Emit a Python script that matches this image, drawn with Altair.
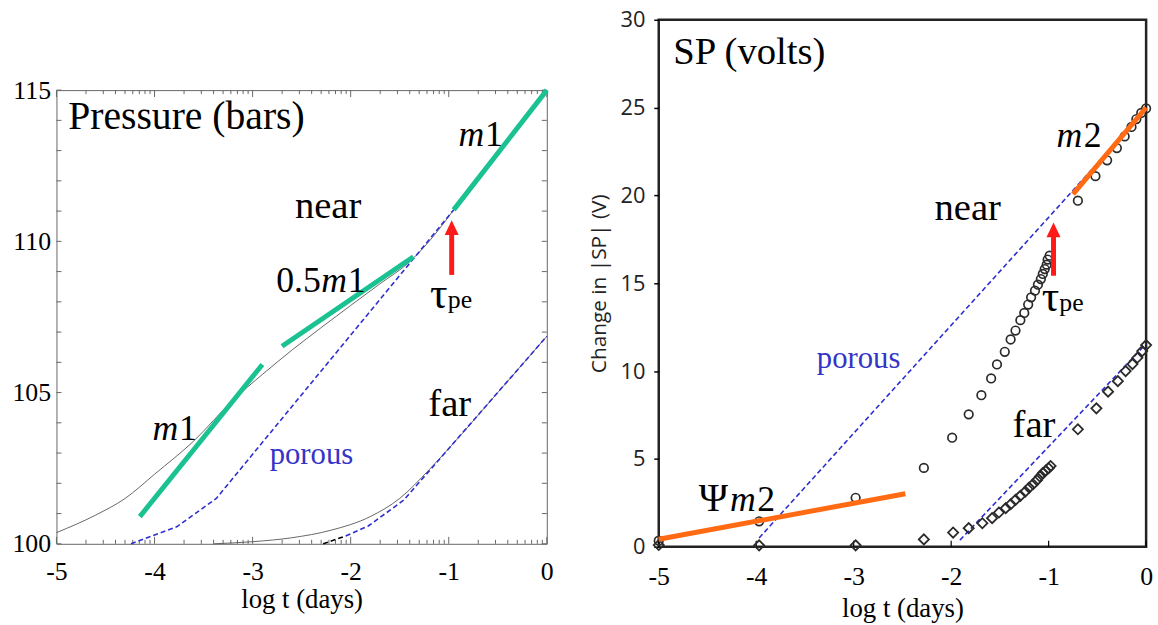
import altair as alt
import numpy as np
import pandas as pd

SERIF = "Liberation Serif"
SANS = "Open Sans"
GREEN = "#1bc291"
ORANGE = "#ff6a13"
BLUE = "#2d2dd2"
RED = "#ff1a1a"
THIN = "#555555"

LW, LH = 495, 458   # pressure panel plot area
RW, RH = 492, 532   # SP panel plot area

# ---------------- Pressure panel data ----------------
near_x = [-5.0, -4.6, -4.3, -4.0, -3.6, -3.2, -2.9, -2.6, -2.3, -2.0, -1.7, -1.4, -1.2, -1.0, -0.95, -0.5, 0.0]
near_y = [100.37, 100.95, 101.5, 102.3, 103.4, 104.75, 105.6, 106.4, 107.15, 107.88, 108.6, 109.32,
          110.0, 110.82, 111.04, 112.92, 115.0]

far_x = [-3.4, -3.0, -2.6, -2.2, -1.8, -1.5, -1.2, -1.0, -0.5, 0.0]
far_y = [100.0, 100.07, 100.2, 100.45, 100.9, 101.5, 102.45, 103.15, 105.0, 106.86]

porous_near_x = [-4.24, -3.77, -3.37, -0.95]
porous_near_y = [100.0, 100.57, 101.5, 111.04]
porous_far_x = [-2.05, -1.82, -1.46, 0.0]
porous_far_y = [100.26, 100.59, 101.44, 106.86]
porous_far_start_x = [-2.28, -2.05]
porous_far_start_y = [100.0, 100.26]

# straight-line slopes (m1, 0.5 m1, m1)
slope_seg = ["m1_early", "m1_early", "half", "half", "m1_late", "m1_late"]
slope_x = [-4.15, -2.90, -2.70, -1.36, -0.95, 0.0]
slope_y = [100.9, 105.93, 106.53, 109.49, 111.04, 115.0]

p_arrow_x = [-0.97]
p_arrow_tail = [108.89]
p_arrow_neck = [110.22]
p_arrow_tip = [110.70]

p_x_major = [-5, -4, -3, -2, -1, 0]
p_y_labels = [100, 105, 110, 115]
p_y_ticks = list(range(100, 116))

# ---------------- SP panel data ----------------
circle_x = [-5.0, -3.97, -2.98, -2.28,
            -1.99, -1.82, -1.69, -1.59, -1.53, -1.45, -1.39, -1.34, -1.29, -1.25,
            -1.21, -1.18, -1.14, -1.11, -1.08, -1.06, -1.04, -1.02, -1.01, -0.99,
            -0.70, -0.52, -0.40, -0.30, -0.22, -0.15, -0.10, -0.05, 0.0]
circle_y = [0.35, 1.45, 2.79, 4.49,
            6.21, 7.54, 8.63, 9.58, 10.38, 11.1, 11.8, 12.31, 12.9, 13.31,
            13.79, 14.2, 14.58, 14.92, 15.24, 15.53, 15.81, 16.06, 16.35, 16.57,
            19.7, 21.1, 22.0, 22.7, 23.36, 23.9, 24.35, 24.7, 24.95]

diamond_x = [-5.0, -3.97, -2.98, -2.28,
             -1.98, -1.82, -1.68, -1.58, -1.51, -1.44, -1.39, -1.34, -1.29, -1.24,
             -1.20, -1.16, -1.12, -1.09, -1.06, -1.03, -1.0, -0.98,
             -0.70, -0.51, -0.39, -0.29, -0.21, -0.14, -0.09, -0.04, 0.0]
diamond_y = [0.1, 0.08, 0.08, 0.42,
             0.81, 1.06, 1.34, 1.63, 1.95, 2.2, 2.42, 2.67, 2.9, 3.14,
             3.37, 3.56, 3.79, 4.0, 4.19, 4.34, 4.47, 4.6,
             6.69, 7.88, 8.83, 9.43, 10.0, 10.4, 10.76, 11.14, 11.48]

sp_porous_seg = ["near", "near", "far", "far"]
sp_porous_x = [-3.97, 0.0, -1.91, 0.0]
sp_porous_y = [0.5, 24.9, 0.38, 11.55]

sp_slope_seg = ["psi", "psi", "m2", "m2"]
sp_slope_x = [-5.0, -2.47, -0.75, 0.0]
sp_slope_y = [0.43, 3.02, 20.07, 25.0]

s_arrow_x = [-0.95]
s_arrow_tail = [15.43]
s_arrow_neck = [17.7]
s_arrow_tip = [18.46]

s_x_major = [-5, -4, -3, -2, -1, 0]
s_y_major = [0, 5, 10, 15, 20, 25, 30]

# ---------------- scales / axes ----------------
L_XS = alt.Scale(domain=[-5, 0], nice=False, zero=False)
L_YS = alt.Scale(domain=[100, 115], nice=False, zero=False)
R_XS = alt.Scale(domain=[-5, 0], nice=False, zero=False)
R_YS = alt.Scale(domain=[0, 30], nice=False, zero=False)

L_XA = alt.Axis(values=p_x_major, labelExpr="'' + datum.value", domain=False, ticks=False,
                grid=False, labelFont=SERIF, labelFontSize=26, labelColor="black",
                labelPadding=15, labelFlush=False, title="log t (days)", titleFont=SERIF,
                titleFontSize=27, titleFontWeight="normal", titleColor="black", titlePadding=2)
L_YA = alt.Axis(values=p_y_labels, domain=False, ticks=False, grid=False, labelFont=SERIF,
                labelFontSize=26, labelColor="black", labelPadding=6, title=None)
R_XA = alt.Axis(values=s_x_major, labelExpr="'' + datum.value", domain=False, ticks=False,
                grid=False, labelFont=SERIF, labelFontSize=26, labelColor="black",
                labelPadding=17, labelFlush=False, title="log t (days)", titleFont=SERIF,
                titleFontSize=27, titleFontWeight="normal", titleColor="black", titlePadding=6)
R_YA = alt.Axis(values=s_y_major, domain=False, ticks=True, tickSize=5, tickColor="black",
                tickWidth=1.5, grid=False, labelFont=SANS, labelFontSize=22, labelColor="#222",
                labelPadding=9, title="Change in |SP| (V)", titleFont=SANS, titleFontSize=21,
                titleFontWeight="normal", titleColor="#222", titlePadding=11)


def LX(f="x"):
    return alt.X(f"{f}:Q", scale=L_XS, axis=L_XA)


def LY(f="y"):
    return alt.Y(f"{f}:Q", scale=L_YS, axis=L_YA)


def RX(f="x"):
    return alt.X(f"{f}:Q", scale=R_XS, axis=R_XA)


def RY(f="y"):
    return alt.Y(f"{f}:Q", scale=R_YS, axis=R_YA)


def line(xs, ys, X, Y, **kw):
    df = pd.DataFrame({"x": xs, "y": ys, "i": range(len(xs))})
    return alt.Chart(df).mark_line(**kw).encode(x=X(), y=Y(), order="i:Q")


def segs(names, xs, ys, X, Y, **kw):
    df = pd.DataFrame({"s": names, "x": xs, "y": ys})
    return alt.Chart(df).mark_line(**kw).encode(x=X(), y=Y(), detail="s:N")


def text(xs, ys, words, X, Y, size, align="left", style="normal", color="black", font=SERIF):
    df = pd.DataFrame({"x": xs, "y": ys, "t": words})
    return alt.Chart(df).mark_text(font=font, fontSize=size, fontStyle=style, align=align,
                                   baseline="alphabetic", color=color).encode(
        x=X(), y=Y(), text="t:N")


def arrow(xs, tail, neck, tip, X, Y):
    df = pd.DataFrame({"x": xs, "tail": tail, "neck": neck, "tip": tip})
    shaft = alt.Chart(df).mark_rule(color=RED, strokeWidth=5, strokeCap="butt").encode(
        x=X(), y=Y("tail"), y2="neck:Q")
    head = alt.Chart(df).mark_point(shape="M0,0L0.5,1.05L-0.5,1.05Z", size=800, filled=True,
                                    color=RED, opacity=1, strokeWidth=0).encode(
        x=X(), y=Y("tip"))
    return [shaft, head]


# ---------------- Pressure panel ----------------
minor_x = [d + np.log10(k) for d in range(-5, 0) for k in range(2, 10)]
tick_color = "#666666"
xmaj = pd.DataFrame({"v": p_x_major})
xmin = pd.DataFrame({"v": minor_x})
yt = pd.DataFrame({"v": p_y_ticks})

p_ticks = [
    alt.Chart(xmaj).mark_rule(color=tick_color, strokeWidth=1).encode(
        x=LX("v"), y=alt.value(LH), y2=alt.value(LH - 7)),
    alt.Chart(xmaj).mark_rule(color=tick_color, strokeWidth=1).encode(
        x=LX("v"), y=alt.value(0), y2=alt.value(7)),
    alt.Chart(xmin).mark_rule(color=tick_color, strokeWidth=1).encode(
        x=LX("v"), y=alt.value(LH), y2=alt.value(LH - 4)),
    alt.Chart(xmin).mark_rule(color=tick_color, strokeWidth=1).encode(
        x=LX("v"), y=alt.value(0), y2=alt.value(4)),
    alt.Chart(yt).mark_rule(color=tick_color, strokeWidth=1).encode(
        y=LY("v"), x=alt.value(0), x2=alt.value(5)),
    alt.Chart(yt).mark_rule(color=tick_color, strokeWidth=1).encode(
        y=LY("v"), x=alt.value(LW), x2=alt.value(LW - 5)),
]

p_layers = p_ticks + [
    line(near_x, near_y, LX, LY, color=THIN, strokeWidth=0.9, interpolate="monotone"),
    line(far_x, far_y, LX, LY, color=THIN, strokeWidth=0.9, interpolate="monotone"),
    line(porous_near_x, porous_near_y, LX, LY, color=BLUE, strokeWidth=1.6, strokeDash=[5, 3]),
    line(porous_far_x, porous_far_y, LX, LY, color=BLUE, strokeWidth=1.6, strokeDash=[5, 3]),
    line(porous_far_start_x, porous_far_start_y, LX, LY, color="black", strokeWidth=1.6,
         strokeDash=[5, 3]),
    segs(slope_seg, slope_x, slope_y, LX, LY, color=GREEN, strokeWidth=5, strokeCap="butt"),
] + arrow(p_arrow_x, p_arrow_tail, p_arrow_neck, p_arrow_tip, LX, LY) + [
    text([-4.88], [113.72], ["Pressure (bars)"], LX, LY, 40),
    text([-2.23], [110.78], ["near"], LX, LY, 39, align="center"),
    text([-0.99], [104.23], ["far"], LX, LY, 39, align="center"),
    text([-2.40], [102.65], ["porous"], LX, LY, 31, align="center", color="#3434c6"),
    text([-0.90, -4.02, -2.30], [113.16, 103.44, 108.33], ["m", "m", "m"], LX, LY, 36,
         style="italic"),
    text([-0.63, -3.75, -2.03], [113.16, 103.44, 108.33], ["1", "1", "1"], LX, LY, 36),
    text([-2.76], [108.33], ["0.5"], LX, LY, 36),
    text([-1.19], [107.79], ["\u03c4"], LX, LY, 44),
    text([-1.01], [107.79], ["pe"], LX, LY, 26),
]

pressure = alt.layer(*p_layers).properties(
    width=LW, height=LH, view=alt.ViewBackground(stroke="#666666", strokeWidth=1))

spacer = alt.Chart(pd.DataFrame({"x": [0]})).mark_point(opacity=0).properties(
    width=LW, height=56, view=alt.ViewBackground(stroke="transparent"))

left = alt.vconcat(spacer, pressure, spacing=0)

# ---------------- SP panel ----------------
rxt = pd.DataFrame({"v": s_x_major})
s_layers = [
    alt.Chart(rxt).mark_rule(color="black", strokeWidth=1.2).encode(
        x=RX("v"), y=alt.value(RH), y2=alt.value(RH - 6)),
    segs(sp_porous_seg, sp_porous_x, sp_porous_y, RX, RY, color=BLUE, strokeWidth=1.6,
         strokeDash=[5, 3]),
    alt.Chart(pd.DataFrame({"x": circle_x, "y": circle_y})).mark_point(
        shape="circle", size=75, filled=False, color="#2a2a2a", strokeWidth=1.7, opacity=1).encode(
        x=RX(), y=RY()),
    alt.Chart(pd.DataFrame({"x": diamond_x, "y": diamond_y})).mark_point(
        shape="diamond", size=105, filled=False, color="#2a2a2a", strokeWidth=1.8, opacity=1).encode(
        x=RX(), y=RY()),
    segs(sp_slope_seg, sp_slope_x, sp_slope_y, RX, RY, color=ORANGE, strokeWidth=5,
         strokeCap="butt"),
] + arrow(s_arrow_x, s_arrow_tail, s_arrow_neck, s_arrow_tip, RX, RY) + [
    text([-4.85], [27.5], ["SP (volts)"], RX, RY, 39),
    text([-1.83], [18.62], ["near"], RX, RY, 39, align="center"),
    text([-1.15], [6.26], ["far"], RX, RY, 39, align="center"),
    text([-2.95], [10.19], ["porous"], RX, RY, 31, align="center", color="#3434c6"),
    text([-0.92, -4.27], [22.73, 2.04], ["m", "m"], RX, RY, 36, style="italic"),
    text([-0.64, -3.99], [22.73, 2.04], ["2", "2"], RX, RY, 36),
    text([-4.59], [2.04], ["\u03a8"], RX, RY, 40),
    text([-1.07], [13.41], ["\u03c4"], RX, RY, 44),
    text([-0.89], [13.41], ["pe"], RX, RY, 26),
]

sp = alt.layer(*s_layers).properties(
    width=RW, height=RH, view=alt.ViewBackground(stroke="#222222", strokeWidth=2.5))

chart = alt.hconcat(left, sp, spacing=29).properties(
    padding={"left": 11, "top": 4, "right": 0, "bottom": 0}
).configure(background="white")

chart.save("out.html", embed_options={"renderer": "svg", "actions": False})
